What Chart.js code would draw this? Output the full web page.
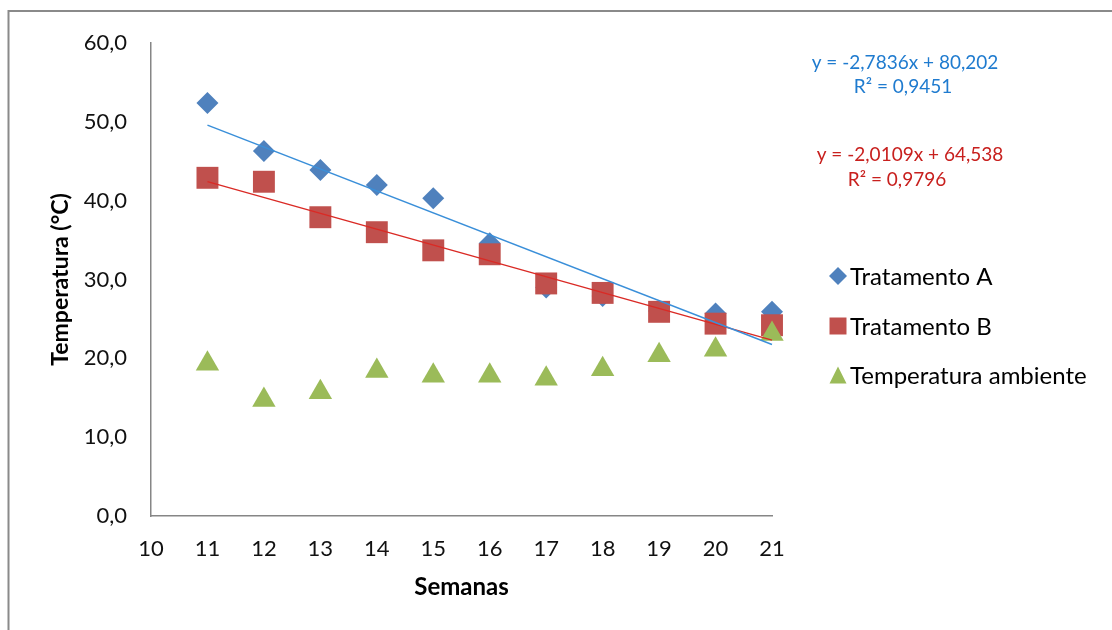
<!DOCTYPE html>
<html>
<head>
<meta charset="utf-8">
<script src="https://cdn.jsdelivr.net/npm/chart.js@4.4.0/dist/chart.umd.min.js"></script>
<style>
  html, body { margin: 0; padding: 0; background: #fff; }
  canvas { display: block; }
</style>
</head>
<body>
<canvas id="myChart" width="1112" height="630"></canvas>
<script>
/* global Chart */

var semanas = [11, 12, 13, 14, 15, 16, 17, 18, 19, 20, 21];
var tratamentoA = [52.4, 46.3, 43.9, 42.0, 40.3, 34.6, 29.0, 27.9, 26.0, 25.7, 25.9];
var tratamentoB = [42.9, 42.4, 37.9, 36.0, 33.7, 33.2, 29.5, 28.3, 25.9, 24.4, 24.2];
var ambiente = [19.3, 14.7, 15.7, 18.4, 17.8, 17.8, 17.4, 18.6, 20.4, 21.1, 23.1];

// trend lines: slope, intercept, R2
var trendA = [-2.7836, 80.202, 0.9451];
var trendB = [-2.0109, 64.538, 0.9796];

var legendLabels = ['Tratamento A', 'Tratamento B', 'Temperatura ambiente'];
var colors = ['#4F81BD', '#C0504D', '#9BBB59'];

var FONT = 'Lato';

function comma(v, d) {
  return v.toFixed(d).replace('.', ',');
}

function points(ys) {
  return semanas.map(function(x, i) { return { x: x, y: ys[i] }; });
}

function trendPoints(t) {
  var x0 = semanas[0], x1 = semanas[semanas.length - 1];
  return [{ x: x0, y: t[0] * x0 + t[1] }, { x: x1, y: t[0] * x1 + t[1] }];
}

function marker(ctx, style, x, y, s) {
  ctx.beginPath();
  if (style == 'diamond') {
    ctx.moveTo(x, y - s); ctx.lineTo(x + s, y); ctx.lineTo(x, y + s); ctx.lineTo(x - s, y);
  } else if (style == 'square') {
    ctx.rect(x - s, y - s, 2 * s, 2 * s);
  } else {
    ctx.moveTo(x, y - s); ctx.lineTo(x + s, y + s); ctx.lineTo(x - s, y + s);
  }
  ctx.closePath();
  ctx.fill();
}

var extras = {
  id: 'extras',
  afterDraw: function(chart) {
    var ctx = chart.ctx;
    ctx.save();
    // outer frame
    ctx.strokeStyle = '#8a8a8a';
    ctx.lineWidth = 2;
    ctx.beginPath();
    ctx.moveTo(8.5, 630); ctx.lineTo(8.5, 11); ctx.lineTo(1112, 11);
    ctx.stroke();

    // equations
    ctx.textAlign = 'center';
    ctx.textBaseline = 'middle';
    ctx.font = '19px ' + FONT;
    ctx.fillStyle = '#1F7BCF';
    ctx.fillText('y = ' + comma(trendA[0], 4) + 'x + ' + comma(trendA[1], 3), 905, 63);
    ctx.fillText('R\u00B2 = ' + comma(trendA[2], 4), 903, 87);
    ctx.fillStyle = '#C8201E';
    ctx.fillText('y = ' + comma(trendB[0], 4) + 'x + ' + comma(trendB[1], 3), 910, 155);
    ctx.fillText('R\u00B2 = ' + comma(trendB[2], 4), 897, 180);

    // legend
    var styles = ['diamond', 'square', 'triangle'];
    var ys = [276, 326, 375];
    ctx.textAlign = 'left';
    ctx.font = '24px ' + FONT;
    for (var i = 0; i < legendLabels.length; i++) {
      ctx.fillStyle = colors[i];
      marker(ctx, styles[i], 838, ys[i], styles[i] == 'diamond' ? 9 : 8.5);
      ctx.fillStyle = '#000';
      ctx.fillText(legendLabels[i], 850, ys[i] + 1);
    }
    ctx.restore();
  }
};

var chart1 = document.getElementById('myChart').getContext('2d');

new Chart(chart1, {
  type: 'scatter',
  data: {
    datasets: [{
      label: 'Tendência A',
      data: trendPoints(trendA),
      showLine: true,
      borderColor: '#3A8FD9',
      borderWidth: 1.5,
      pointRadius: 0,
      clip: false,
      order: 0
    },
    {
      label: 'Tendência B',
      data: trendPoints(trendB),
      showLine: true,
      borderColor: '#DA2A25',
      borderWidth: 1.5,
      pointRadius: 0,
      clip: false,
      order: 0
    },
    {
      label: legendLabels[2],
      data: points(ambiente),
      pointStyle: 'triangle',
      pointRadius: 13.5,
      backgroundColor: colors[2],
      borderColor: colors[2],
      borderWidth: 0,
      clip: false,
      order: 1
    },
    {
      label: legendLabels[1],
      data: points(tratamentoB),
      pointStyle: 'rect',
      pointRadius: 15.5,
      backgroundColor: colors[1],
      borderColor: colors[1],
      borderWidth: 0,
      clip: false,
      order: 2
    },
    {
      label: legendLabels[0],
      data: points(tratamentoA),
      pointStyle: 'rectRot',
      pointRadius: 11,
      backgroundColor: colors[0],
      borderColor: colors[0],
      borderWidth: 0,
      clip: false,
      order: 3
    }]
  },
  options: {
    responsive: false,
    animation: false,
    events: [],
    layout: { padding: { left: 0, top: 43, right: 340, bottom: 0 } },
    plugins: {
      legend: { display: false },
      tooltip: { enabled: false }
    },
    scales: {
      x: {
        type: 'linear',
        min: 10,
        max: 21,
        afterFit: function(s) { s.height = 114; },
        grid: { display: false, drawTicks: false },
        border: { display: true, color: '#868686', width: 1.5 },
        ticks: {
          stepSize: 1,
          autoSkip: false,
          padding: 20,
          color: '#111',
          font: { family: FONT, size: 22 }
        },
        title: {
          display: true,
          text: 'Semanas',
          color: '#000',
          padding: { bottom: 28 },
          font: { family: FONT, size: 24, weight: 'bold' }
        }
      },
      y: {
        min: 0,
        max: 60,
        afterFit: function(s) { s.width = 151; },
        grid: { display: false, drawTicks: false },
        border: { display: true, color: '#868686', width: 1.5 },
        ticks: {
          stepSize: 10,
          padding: 24,
          color: '#111',
          font: { family: FONT, size: 22 },
          callback: function(v) { return comma(v, 1); }
        },
        title: {
          display: true,
          text: 'Temperatura (°C)',
          color: '#000',
          padding: { top: 47 },
          font: { family: FONT, size: 23, weight: 'bold' }
        }
      }
    }
  },
  plugins: [extras]
});
</script>
</body>
</html>
